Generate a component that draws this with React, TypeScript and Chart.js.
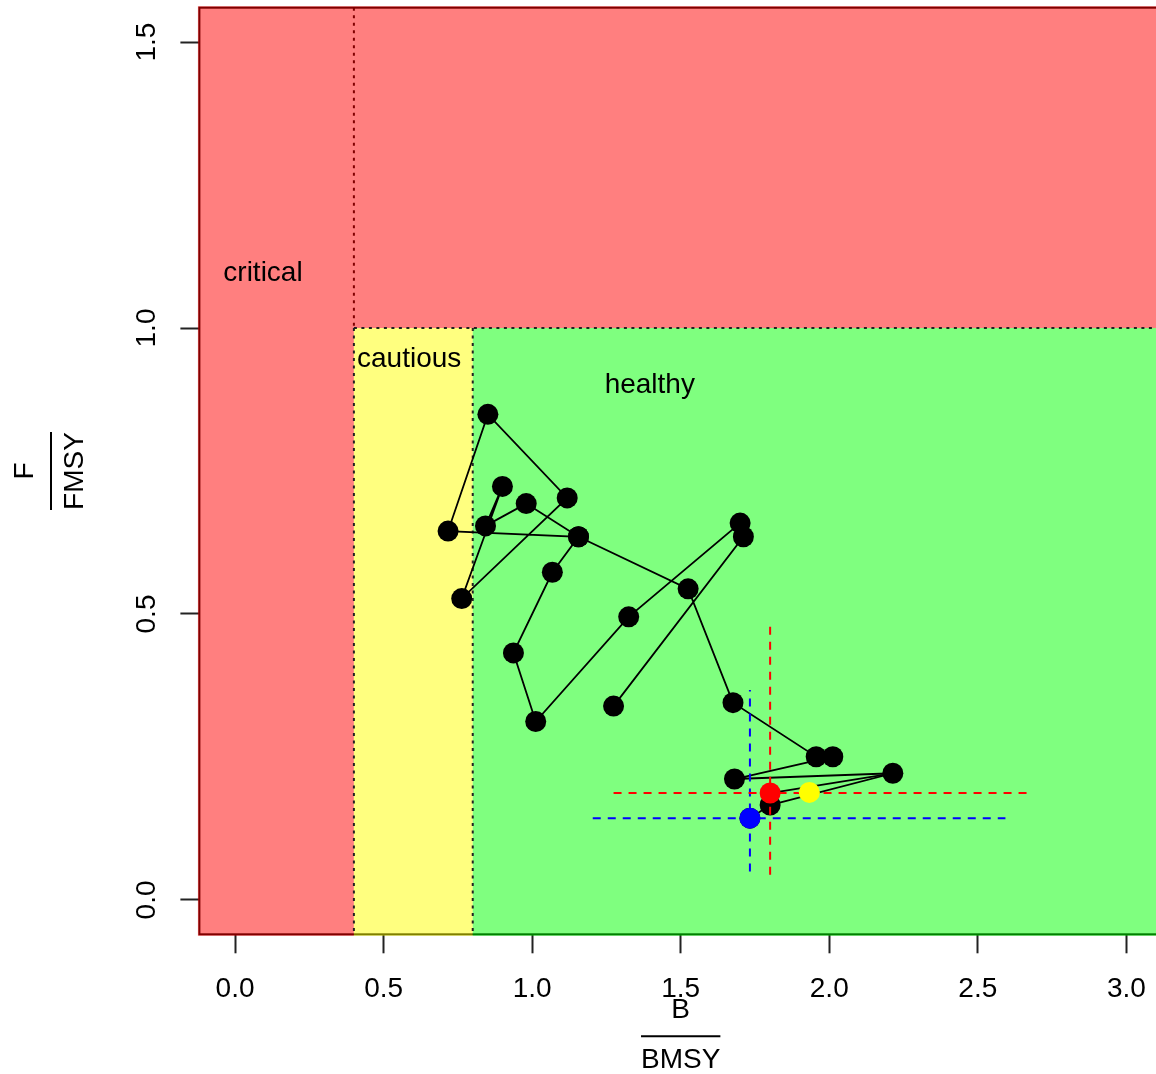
import React, { useEffect, useRef } from 'react';
import { Chart, registerables } from 'chart.js';

Chart.register(...registerables);

// Trajectory (B/BMSY, F/FMSY) in drawing order
const trajB = [1.274, 1.711, 1.700, 1.325, 1.012, 0.937, 1.068, 1.156, 0.717, 0.851, 1.118, 0.763, 0.900, 0.843, 0.980, 1.156, 1.525, 1.676, 1.956, 2.012, 1.681, 2.214, 1.801, 1.733];
const trajF = [0.339, 0.635, 0.659, 0.495, 0.312, 0.432, 0.573, 0.635, 0.645, 0.849, 0.703, 0.527, 0.723, 0.654, 0.693, 0.635, 0.544, 0.345, 0.2505, 0.2505, 0.2115, 0.2215, 0.166, 0.143];

// Link from the last full-trajectory point to the current (red) estimate
const linkB = [2.214, 1.801];
const linkF = [0.2215, 0.187];

// Highlighted estimates
const markB = [1.801, 1.933, 1.733];
const markF = [0.187, 0.188, 0.143];
const markColors = ['#FF0000', '#FFFF00', '#0000FF'];

// Confidence crosshairs (red, blue)
const ciColors = ['#FF0000', '#0000FF'];
const ciCenterB = [1.801, 1.733];
const ciCenterF = [0.187, 0.143];
const ciLowB = [1.274, 1.204];
const ciHighB = [2.666, 2.593];
const ciLowF = [0.044, 0.050];
const ciHighF = [0.487, 0.367];

// Zones
const zoneBreaksB = [0.4, 0.8];
const zoneBreakF = 1.0;
const zoneLabels = ['critical', 'cautious', 'healthy'];
const zoneLabelB = [0.094, 0.586, 1.396];
const zoneLabelF = [1.096, 0.945, 0.900];

// Axes
const xTicks = [0, 0.5, 1, 1.5, 2, 2.5, 3];
const xTickLabels = ['0.0', '0.5', '1.0', '1.5', '2.0', '2.5', '3.0'];
const yTicks = [0, 0.5, 1, 1.5];
const yTickLabels = ['0.0', '0.5', '1.0', '1.5'];
const xRange = [-0.12, 3.12];
const yRange = [-0.06, 1.56];
const xTitle = ['B', 'BMSY'];
const yTitle = ['F', 'FMSY'];

const FONT = '"Liberation Sans", Arial, sans-serif';

const zonePlugin = {
  id: 'zones',
  beforeDraw(chart: any) {
    const { ctx, width, height } = chart;
    ctx.save();
    ctx.fillStyle = '#ffffff';
    ctx.fillRect(0, 0, width, height);
    ctx.restore();
  },
  beforeDatasetsDraw(chart: any) {
    const { ctx, chartArea: a, scales } = chart;
    const x = scales.x;
    const y = scales.y;
    ctx.save();
    // box
    ctx.strokeStyle = '#000';
    ctx.lineWidth = 2;
    ctx.strokeRect(a.left, a.top, a.right - a.left, a.bottom - a.top);
    const L = a.left - 1.5;
    const R = a.right + 1.5;
    const T = a.top - 1.5;
    const B = a.bottom + 1.5;
    const xb0 = x.getPixelForValue(zoneBreaksB[0]);
    const xb1 = x.getPixelForValue(zoneBreaksB[1]);
    const yf = y.getPixelForValue(zoneBreakF);
    ctx.fillStyle = 'rgba(255,0,0,0.5)';
    ctx.fillRect(L, T, xb0 - L, B - T);
    ctx.fillRect(xb0, T, R - xb0, yf - T);
    ctx.fillStyle = 'rgba(255,255,0,0.5)';
    ctx.fillRect(xb0, yf, xb1 - xb0, B - yf);
    ctx.fillStyle = 'rgba(0,255,0,0.5)';
    ctx.fillRect(xb1, yf, R - xb1, B - yf);
    // dotted borders
    ctx.lineWidth = 2;
    ctx.setLineDash([3, 4.5]);
    ctx.strokeStyle = '#800000';
    ctx.beginPath();
    ctx.moveTo(xb0, a.top);
    ctx.lineTo(xb0, yf);
    ctx.stroke();
    ctx.strokeStyle = '#222';
    ctx.beginPath();
    ctx.moveTo(xb0, yf);
    ctx.lineTo(xb0, a.bottom);
    ctx.moveTo(xb0, yf);
    ctx.lineTo(a.right, yf);
    ctx.moveTo(xb1, yf);
    ctx.lineTo(xb1, a.bottom);
    ctx.stroke();
    ctx.setLineDash([]);
    // zone labels
    ctx.fillStyle = '#000';
    ctx.font = '28px ' + FONT;
    ctx.textAlign = 'center';
    ctx.textBaseline = 'middle';
    zoneLabels.forEach((t, i) => {
      ctx.fillText(t, x.getPixelForValue(zoneLabelB[i]), y.getPixelForValue(zoneLabelF[i]));
    });
    ctx.restore();
  },
  afterDraw(chart: any) {
    const { ctx, chartArea: a } = chart;
    ctx.save();
    ctx.fillStyle = '#000';
    ctx.strokeStyle = '#000';
    ctx.lineWidth = 2;
    ctx.font = '28px ' + FONT;
    ctx.textAlign = 'center';
    ctx.textBaseline = 'alphabetic';
    // x title (fraction)
    const cx = (a.left + a.right) / 2;
    const barY = a.bottom + 102;
    const wX = ctx.measureText(xTitle[1]).width;
    ctx.fillText(xTitle[0], cx, barY - 18);
    ctx.beginPath();
    ctx.moveTo(cx - wX / 2, barY);
    ctx.lineTo(cx + wX / 2, barY);
    ctx.stroke();
    ctx.fillText(xTitle[1], cx, barY + 32);
    // y title (fraction), rotated
    const cy = (a.top + a.bottom) / 2;
    const barX = 51;
    const wY = ctx.measureText(yTitle[1]).width;
    ctx.translate(barX, cy);
    ctx.rotate(-Math.PI / 2);
    ctx.fillText(yTitle[0], 0, -18);
    ctx.beginPath();
    ctx.moveTo(-wY / 2, 0);
    ctx.lineTo(wY / 2, 0);
    ctx.stroke();
    ctx.fillText(yTitle[1], 0, 32);
    ctx.restore();
  },
};

const noPad = (s: any) => {
  s.paddingLeft = 0;
  s.paddingRight = 0;
  s.paddingTop = 0;
  s.paddingBottom = 0;
};

export default function App() {
  const ref = useRef<HTMLCanvasElement | null>(null);
  useEffect(() => {
    if (!ref.current) return;
    const traj = trajB.map((b, i) => ({ x: b, y: trajF[i] }));
    const link = linkB.map((b, i) => ({ x: b, y: linkF[i] }));
    const ciSets: any[] = [];
    ciColors.forEach((c, i) => {
      ciSets.push({
        type: 'scatter',
        data: [{ x: ciLowB[i], y: ciCenterF[i] }, { x: ciHighB[i], y: ciCenterF[i] }],
        showLine: true,
        borderColor: c,
        borderWidth: 2,
        borderDash: [8, 7],
        pointRadius: 0,
        order: 3,
      });
      ciSets.push({
        type: 'scatter',
        data: [{ x: ciCenterB[i], y: ciLowF[i] }, { x: ciCenterB[i], y: ciHighF[i] }],
        showLine: true,
        borderColor: c,
        borderWidth: 2,
        borderDash: [8, 7],
        pointRadius: 0,
        order: 3,
      });
    });
    const markSets = markB.map((b, i) => ({
      type: 'scatter',
      data: [{ x: b, y: markF[i] }],
      pointRadius: 10.5,
      pointBackgroundColor: markColors[i],
      pointBorderWidth: 0,
      order: 1,
    }));
    const chart = new Chart(ref.current, {
      type: 'scatter',
      data: {
        datasets: [
          {
            data: traj,
            showLine: true,
            borderColor: '#000',
            borderWidth: 1.8,
            pointRadius: 10.5,
            pointBackgroundColor: '#000',
            pointBorderWidth: 0,
            order: 5,
          } as any,
          {
            data: link,
            showLine: true,
            borderColor: '#000',
            borderWidth: 1.8,
            pointRadius: 0,
            order: 4,
          } as any,
          ...ciSets,
          ...markSets,
        ],
      },
      options: {
        animation: false,
        responsive: false,
        devicePixelRatio: 1,
        layout: { autoPadding: false, padding: { top: 7.7, right: 0, left: 0, bottom: 0 } },
        plugins: { legend: { display: false }, tooltip: { enabled: false } },
        scales: {
          x: {
            type: 'linear',
            min: xRange[0],
            max: xRange[1],
            afterBuildTicks: (s: any) => {
              s.ticks = xTicks.map((v) => ({ value: v }));
            },
            afterFit: (s: any) => {
              s.height = 139.7;
              noPad(s);
            },
            ticks: {
              callback: (v: any) => xTickLabels[xTicks.indexOf(Number(v))] ?? '',
              font: { family: FONT, size: 28 },
              color: '#000',
              padding: 19,
              maxRotation: 0,
              minRotation: 0,
            },
            grid: { drawOnChartArea: false, drawTicks: true, tickLength: 19, tickColor: '#222', tickWidth: 2 },
            border: { display: false },
          },
          y: {
            type: 'linear',
            min: yRange[0],
            max: yRange[1],
            afterBuildTicks: (s: any) => {
              s.ticks = yTicks.map((v) => ({ value: v }));
            },
            afterFit: (s: any) => {
              s.width = 199.4;
              noPad(s);
            },
            ticks: {
              callback: (v: any) => yTickLabels[yTicks.indexOf(Number(v))] ?? '',
              font: { family: FONT, size: 28 },
              color: '#000',
              padding: 14,
              minRotation: 90,
              maxRotation: 90,
              crossAlign: 'center',
            },
            grid: { drawOnChartArea: false, drawTicks: true, tickLength: 19, tickColor: '#222', tickWidth: 2 },
            border: { display: false },
          },
        },
      } as any,
      plugins: [zonePlugin],
    });
    return () => chart.destroy();
  }, []);
  return (
    <div style={{ position: 'absolute', left: 0, top: 0, width: 1156, height: 1074, overflow: 'hidden', background: '#fff' }}>
      <canvas ref={ref} width={1162} height={1074} style={{ display: 'block' }} />
    </div>
  );
}
